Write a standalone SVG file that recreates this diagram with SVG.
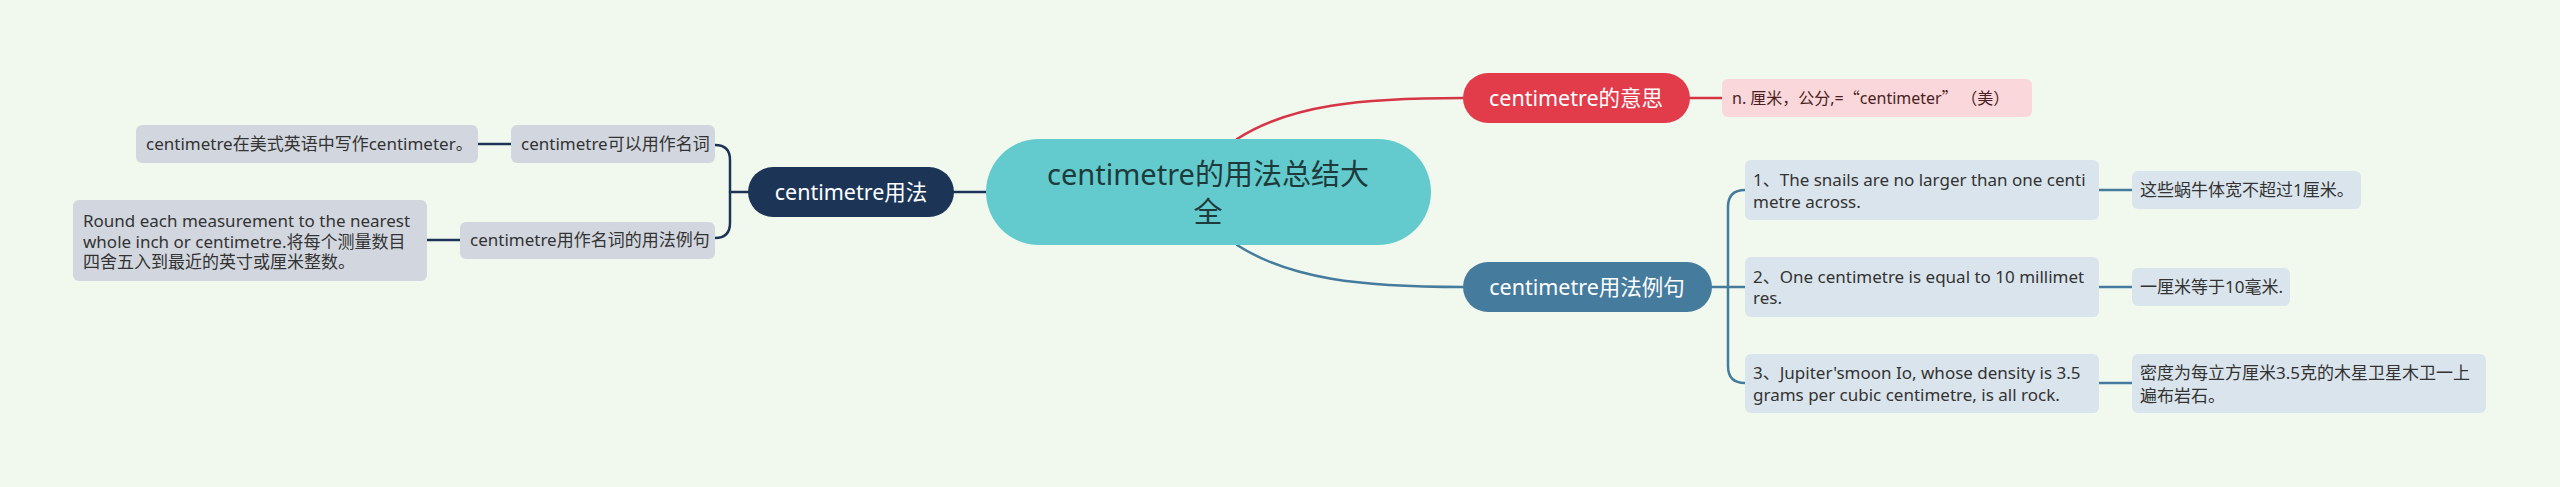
<svg xmlns="http://www.w3.org/2000/svg" width="2560" height="487" viewBox="0 0 2560 487">
<style>
text{font-family:"Noto Sans","Noto Sans CJK SC",sans-serif;}
.cjk{font-family:"Noto Sans CJK SC",sans-serif;}
.leafL{fill:#D2D7DF;}
.leafR{fill:#DAE4EC;}
.t16{font-size:17px;fill:#333333;}
.wt{fill:#FFFFFF;font-size:21.5px;text-anchor:middle;}
.cn{fill:none;stroke-width:2.5;stroke-linecap:round;}
.navy{stroke:#1C3557;}
.blue{stroke:#457B9D;}
.red{stroke:#D63545;}
</style>
<rect x="0" y="0" width="2560" height="487" fill="#F1F9EF"/>
<g id="connectors">
<path class="cn navy" d="M954,192 L986,192"/>
<path class="cn navy" d="M730,192 L748,192"/>
<path class="cn navy" d="M715,145 Q730,145 730,160 L730,223 Q730,238 715,238"/>
<path class="cn navy" d="M478,144 L511,144"/>
<path class="cn navy" d="M427,240 L460,240"/>
<path class="cn red" d="M1237,139 C1290,105 1360,98 1463,98"/>
<path class="cn red" d="M1690,98 L1722,98"/>
<path class="cn blue" d="M1237,245 C1290,279 1360,287 1463,287"/>
<path class="cn blue" d="M1712,287 L1745,287"/>
<path class="cn blue" d="M1745,190 Q1728,190 1728,207 L1728,366 Q1728,383 1745,383"/>
<path class="cn blue" d="M2099,190 L2132,190"/>
<path class="cn blue" d="M2099,287 L2132,287"/>
<path class="cn blue" d="M2099,383 L2132,383"/>
</g>
<g id="central">
<rect x="986" y="139" width="445" height="106" rx="53" fill="#63CBCD"/>
<text x="1208" y="185" font-size="29" fill="#1E3A3B" text-anchor="middle">centimetre的用法总结大</text>
<text x="1208" y="223" font-size="29" fill="#1E3A3B" text-anchor="middle">全</text>
</g>
<g id="meaning">
<rect x="1463" y="73" width="227" height="50" rx="25" fill="#E23B4A"/>
<text class="wt" x="1576" y="106">centimetre的意思</text>
</g>
<g id="meaning-leaf">
<rect x="1722" y="79" width="310" height="38" rx="6" fill="#FAD7DB"/>
<text x="1732" y="104" font-size="16" fill="#4A1E22">n. 厘米，公分,=<tspan class="cjk">“</tspan>centimeter<tspan class="cjk">” （</tspan>美<tspan class="cjk">）</tspan></text>
</g>
<g id="usage">
<rect x="748" y="167" width="206" height="50" rx="25" fill="#1C3557"/>
<text class="wt" x="851" y="200">centimetre用法</text>
</g>
<g id="usage-1">
<rect class="leafL" x="511" y="125" width="204" height="38" rx="6"/>
<text class="t16" x="521" y="150">centimetre可以用作名词</text>
</g>
<g id="usage-1-leaf">
<rect class="leafL" x="136" y="125" width="342" height="38" rx="6"/>
<text class="t16" x="146" y="150">centimetre在美式英语中写作centimeter。</text>
</g>
<g id="usage-2">
<rect class="leafL" x="460" y="222" width="255" height="37" rx="6"/>
<text class="t16" x="470" y="246">centimetre用作名词的用法例句</text>
</g>
<g id="usage-2-leaf">
<rect class="leafL" x="73" y="200" width="354" height="81" rx="6"/>
<text class="t16" x="83" y="227">Round each measurement to the nearest</text>
<text class="t16" x="83" y="248">whole inch or centimetre.将每个测量数目</text>
<text class="t16" x="83" y="268">四舍五入到最近的英寸或厘米整数。</text>
</g>
<g id="examples">
<rect x="1463" y="262" width="249" height="50" rx="25" fill="#457B9D"/>
<text class="wt" x="1587" y="295">centimetre用法例句</text>
</g>
<g id="ex-1">
<rect class="leafR" x="1745" y="160" width="354" height="60" rx="6"/>
<text class="t16" x="1753" y="186">1、The snails are no larger than one centi</text>
<text class="t16" x="1753" y="208">metre across.</text>
</g>
<g id="ex-1-tr">
<rect class="leafR" x="2132" y="171" width="229" height="38" rx="6"/>
<text class="t16" x="2140" y="196">这些蜗牛体宽不超过1厘米。</text>
</g>
<g id="ex-2">
<rect class="leafR" x="1745" y="257" width="354" height="60" rx="6"/>
<text class="t16" x="1753" y="283">2、One centimetre is equal to 10 millimet</text>
<text class="t16" x="1753" y="304">res.</text>
</g>
<g id="ex-2-tr">
<rect class="leafR" x="2132" y="268" width="158" height="38" rx="6"/>
<text class="t16" x="2140" y="293">一厘米等于10毫米.</text>
</g>
<g id="ex-3">
<rect class="leafR" x="1745" y="354" width="354" height="59" rx="6"/>
<text class="t16" x="1753" y="379">3、Jupiter'smoon Io, whose density is 3.5</text>
<text class="t16" x="1753" y="401">grams per cubic centimetre, is all rock.</text>
</g>
<g id="ex-3-tr">
<rect class="leafR" x="2132" y="354" width="354" height="59" rx="6"/>
<text class="t16" x="2140" y="379">密度为每立方厘米3.5克的木星卫星木卫一上</text>
<text class="t16" x="2140" y="402">遍布岩石。</text>
</g>
</svg>
